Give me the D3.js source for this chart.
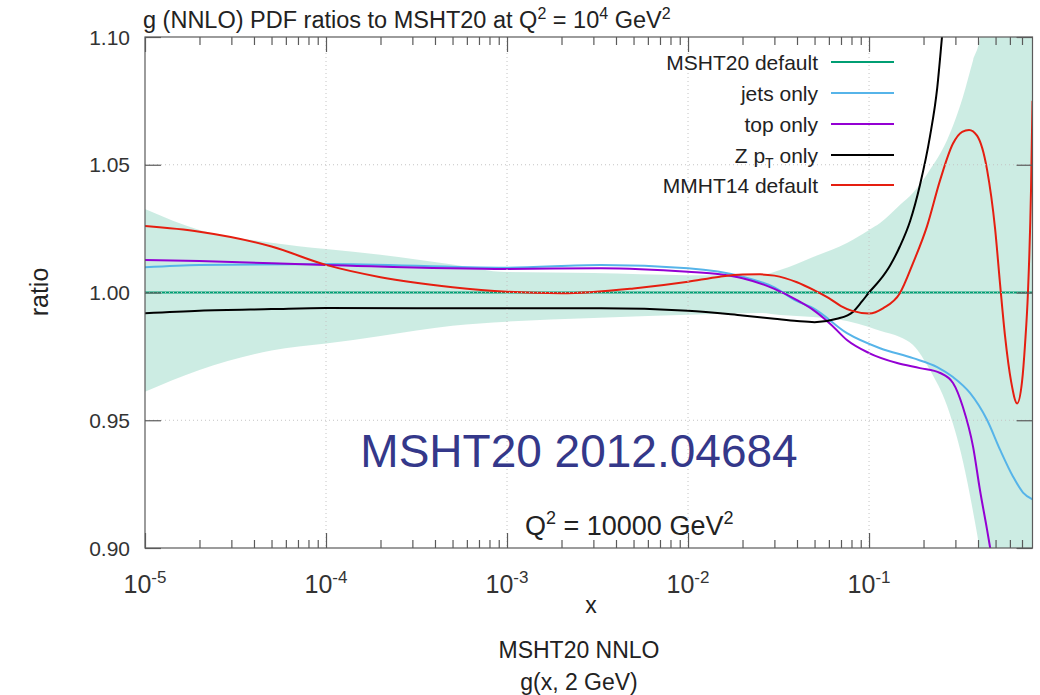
<!DOCTYPE html>
<html>
<head>
<meta charset="utf-8">
<script src="https://cdn.jsdelivr.net/npm/d3@7"></script>
<style>
  body { margin: 0; background: #ffffff; }
  text { font-family: "Liberation Sans", Arial, Helvetica, sans-serif; fill: #222; }
</style>
</head>
<body>
<svg id="chart" width="1040" height="695"></svg>
<script>
// ---- data: gluon ratios to MSHT20 at Q^2 = 10^4 GeV^2 ----
const xTicksMajor = [1e-5, 1e-4, 1e-3, 1e-2, 1e-1];
const xTickExps = ["-5", "-4", "-3", "-2", "-1"];
const yTicks = [0.90, 0.95, 1.00, 1.05, 1.10];
const yTickLabels = ["0.90", "0.95", "1.00", "1.05", "1.10"];

// MSHT20 uncertainty band
const bandX  = [1e-5, 2e-5, 5e-5, 1e-4, 2e-4, 5e-4, 1e-3, 3e-3, 0.01, 0.025, 0.0322, 0.0491, 0.0755, 0.1, 0.115, 0.148, 0.175, 0.217, 0.270, 0.330, 0.376, 0.410, 0.45, 0.8];
const bandHi = [1.0327, 1.0245, 1.0195, 1.0170, 1.0148, 1.0110, 1.0080, 1.0076, 1.0068, 1.0068, 1.0088, 1.0139, 1.0194, 1.0245, 1.0272, 1.0342, 1.0390, 1.0480, 1.0597, 1.0765, 1.0910, 1.1000, 1.13, 1.16];
const bandLo = [0.9612, 0.9697, 0.9773, 0.9800, 0.9830, 0.9870, 0.9886, 0.9900, 0.9913, 0.9920, 0.9912, 0.9904, 0.9888, 0.9865, 0.9850, 0.9826, 0.9795, 0.9697, 0.9556, 0.9340, 0.9140, 0.8980, 0.87, 0.84];

// MSHT20 default (reference)
const mshtX = [1e-5, 0.8];
const mshtY = [1.0, 1.0];

// jets only
const jetsX = [1e-5, 2e-5, 1e-4, 1e-3, 3.3e-3, 0.01, 0.02, 0.03, 0.04, 0.0491, 0.0755, 0.115, 0.175, 0.238, 0.291, 0.361, 0.449, 0.530, 0.625, 0.709, 0.8];
const jetsY = [1.0099, 1.0108, 1.0112, 1.0097, 1.0108, 1.0095, 1.0062, 1.0020, 0.9966, 0.9939, 0.9841, 0.9782, 0.9743, 0.9708, 0.9669, 0.9607, 0.9501, 0.9384, 0.9279, 0.9217, 0.9190];

// top only
const topX = [1e-5, 2e-5, 1e-4, 1e-3, 3.3e-3, 0.01, 0.015, 0.02, 0.03, 0.04, 0.0491, 0.062, 0.0755, 0.1, 0.143, 0.191, 0.247, 0.291, 0.330, 0.376, 0.410, 0.449, 0.467, 0.55, 0.8];
const topY = [1.0127, 1.0123, 1.0108, 1.0092, 1.0095, 1.0081, 1.0071, 1.0056, 1.0014, 0.9970, 0.9932, 0.9873, 0.9814, 0.9763, 0.9724, 0.9704, 0.9685, 0.9646, 0.9552, 0.9395, 0.9227, 0.9071, 0.9000, 0.8700, 0.7800];

// Z pT only
const zptX = [1e-5, 2e-5, 5e-5, 1e-4, 1e-3, 3.3e-3, 0.01, 0.02, 0.03, 0.04, 0.05, 0.0665, 0.0817, 0.0914, 0.1, 0.115, 0.1305, 0.148, 0.1687, 0.191, 0.217, 0.238, 0.253, 0.3];
const zptY = [0.9919, 0.9929, 0.9935, 0.9939, 0.9938, 0.9938, 0.9929, 0.9910, 0.9897, 0.9888, 0.9884, 0.9897, 0.9925, 0.9965, 1.0000, 1.0049, 1.0105, 1.0180, 1.0280, 1.0420, 1.0610, 1.0800, 1.1000, 1.1600];

// MMHT14 default
const mmhtX = [1e-5, 2e-5, 5e-5, 1e-4, 2e-4, 5e-4, 1e-3, 2e-3, 5e-3, 0.01, 0.015, 0.02, 0.025, 0.03, 0.04, 0.05, 0.06, 0.07, 0.08, 0.1, 0.12, 0.148, 0.175, 0.209, 0.247, 0.291, 0.327, 0.357, 0.395, 0.449, 0.497, 0.530, 0.564, 0.610, 0.658, 0.700, 0.728, 0.755, 0.785, 0.8];
const mmhtY = [1.0260, 1.0238, 1.0180, 1.0108, 1.0060, 1.0021, 1.0003, 0.9997, 1.0016, 1.0042, 1.0062, 1.0070, 1.0071, 1.0066, 1.0040, 1.0008, 0.9978, 0.9947, 0.9929, 0.9918, 0.9939, 0.9997, 1.0115, 1.0259, 1.0440, 1.0583, 1.0629, 1.0636, 1.0614, 1.0480, 1.0250, 1.0030, 0.9830, 0.9650, 0.9566, 0.9650, 0.9800, 1.0000, 1.0400, 1.0750];

const seriesNames  = ["MSHT20 default", "jets only", "top only", "Z pT only", "MMHT14 default"];
const seriesColors = ["#009e73", "#56b4e9", "#9400d3", "#000000", "#e51e10"];

// ---- layout ----
const svg = d3.select("#chart");
const pLeft = 145, pRight = 1032.5, pTop = 37, pBottom = 548;

const x = d3.scaleLog().domain([1e-5, 0.8]).range([pLeft, pRight]);
const y = d3.scaleLinear().domain([0.90, 1.10]).range([pBottom, pTop]);

svg.append("defs").append("clipPath").attr("id", "plotClip")
  .append("rect").attr("x", pLeft).attr("y", pTop)
  .attr("width", pRight - pLeft).attr("height", pBottom - pTop);

const plot = svg.append("g").attr("clip-path", "url(#plotClip)");

// uncertainty band
const bandData = bandX.map((d, i) => ({ x: d, lo: bandLo[i], hi: bandHi[i] }));
plot.append("path")
  .datum(bandData)
  .attr("fill", "#009e73")
  .attr("fill-opacity", 0.2)
  .attr("d", d3.area()
    .curve(d3.curveMonotoneX)
    .x(d => x(d.x)).y0(d => y(d.lo)).y1(d => y(d.hi)));

// dotted grid
const grid = svg.append("g").attr("stroke", "#c4c4c4").attr("stroke-width", 1)
  .attr("stroke-dasharray", "1,3");
xTicksMajor.slice(1).forEach(v => {
  grid.append("line").attr("x1", x(v)).attr("x2", x(v)).attr("y1", pTop).attr("y2", pBottom);
});
yTicks.slice(1, -1).forEach(v => {
  grid.append("line").attr("x1", pLeft).attr("x2", pRight).attr("y1", y(v)).attr("y2", y(v));
});

// curves
const line = d3.line().curve(d3.curveMonotoneX).x(d => x(d[0])).y(d => y(d[1]));
const seriesData = [
  d3.zip(mshtX, mshtY),
  d3.zip(jetsX, jetsY),
  d3.zip(topX, topY),
  d3.zip(zptX, zptY),
  d3.zip(mmhtX, mmhtY)
];
seriesData.forEach((pts, i) => {
  plot.append("path").datum(pts)
    .attr("fill", "none")
    .attr("stroke", seriesColors[i])
    .attr("stroke-width", 2)
    .attr("stroke-linejoin", "round")
    .attr("d", line);
});

// ---- axes (ticks drawn inward on all four sides) ----
const minorTicks = [];
for (let e = -5; e <= -1; e++) {
  for (let m = 2; m <= 9; m++) {
    const v = m * Math.pow(10, e);
    if (v < 0.8) minorTicks.push(v);
  }
}
const axisColor = "#5a5a5a";
function styleAxis(g) {
  g.select(".domain").remove();
  g.selectAll("line").attr("stroke", axisColor).attr("stroke-width", 1.2);
  g.selectAll("text").remove();
}
svg.append("g").attr("transform", `translate(0,${pBottom})`)
  .call(d3.axisBottom(x).tickValues(xTicksMajor).tickSize(-15).tickFormat("")).call(styleAxis);
svg.append("g").attr("transform", `translate(0,${pBottom})`)
  .call(d3.axisBottom(x).tickValues(minorTicks).tickSize(-8).tickFormat("")).call(styleAxis);
svg.append("g").attr("transform", `translate(0,${pTop})`)
  .call(d3.axisTop(x).tickValues(xTicksMajor).tickSize(-15).tickFormat("")).call(styleAxis);
svg.append("g").attr("transform", `translate(0,${pTop})`)
  .call(d3.axisTop(x).tickValues(minorTicks).tickSize(-8).tickFormat("")).call(styleAxis);
svg.append("g").attr("transform", `translate(${pLeft},0)`)
  .call(d3.axisLeft(y).tickValues(yTicks).tickSize(-16).tickFormat("")).call(styleAxis);
svg.append("g").attr("transform", `translate(${pRight},0)`)
  .call(d3.axisRight(y).tickValues(yTicks).tickSize(-16).tickFormat("")).call(styleAxis);

// frame
svg.append("rect").attr("x", pLeft).attr("y", pTop)
  .attr("width", pRight - pLeft).attr("height", pBottom - pTop)
  .attr("fill", "none").attr("stroke", axisColor).attr("stroke-width", 1.2);

// y tick labels
svg.append("g").selectAll("text").data(yTicks).join("text")
  .attr("x", 130).attr("y", d => y(d)).attr("dy", "0.36em")
  .attr("text-anchor", "end").attr("font-size", 21).style("fill", "#333")
  .text((d, i) => yTickLabels[i]);

// x tick labels: 10^n
const xl = svg.append("g").selectAll("text").data(xTicksMajor).join("text")
  .attr("x", d => x(d)).attr("y", 593)
  .attr("text-anchor", "middle").attr("font-size", 25).style("fill", "#333");
xl.append("tspan").text("10");
xl.append("tspan").attr("dy", -10).attr("font-size", 17).text((d, i) => xTickExps[i]);

// axis titles
svg.append("text").attr("x", 591).attr("y", 613).attr("text-anchor", "middle")
  .attr("font-size", 23).text("x");
svg.append("text").attr("transform", "translate(48,292) rotate(-90)")
  .attr("text-anchor", "middle").attr("font-size", 25).text("ratio");

// title
const title = svg.append("text").attr("x", 143).attr("y", 28).attr("font-size", 23.5);
title.append("tspan").text("g (NNLO) PDF ratios to MSHT20 at Q");
title.append("tspan").attr("dy", -9).attr("font-size", 16).text("2");
title.append("tspan").attr("dy", 9).text(" = 10");
title.append("tspan").attr("dy", -9).attr("font-size", 16).text("4");
title.append("tspan").attr("dy", 9).text(" GeV");
title.append("tspan").attr("dy", -9).attr("font-size", 16).text("2");

// legend
const legendY = [62, 93, 124, 155, 185];
seriesNames.forEach((name, i) => {
  const t = svg.append("text").attr("x", 818).attr("y", legendY[i]).attr("dy", "0.36em")
    .attr("text-anchor", "end").attr("font-size", 21);
  if (name === "Z pT only") {
    t.append("tspan").text("Z p");
    t.append("tspan").attr("dy", 5).attr("font-size", 14).text("T");
    t.append("tspan").attr("dy", -5).text(" only");
  } else {
    t.text(name);
  }
  svg.append("line").attr("x1", 831).attr("x2", 894)
    .attr("y1", legendY[i]).attr("y2", legendY[i])
    .attr("stroke", seriesColors[i]).attr("stroke-width", 2);
});

// annotations inside the plot
svg.append("text").attr("x", 579).attr("y", 467).attr("text-anchor", "middle")
  .attr("font-family", "DejaVu Sans").attr("font-size", 46)
  .style("fill", "#34388a").text("MSHT20 2012.04684");

const q = svg.append("text").attr("x", 525).attr("y", 535).attr("font-size", 27);
q.append("tspan").text("Q");
q.append("tspan").attr("dy", -11).attr("font-size", 18).text("2");
q.append("tspan").attr("dy", 11).text(" = 10000 GeV");
q.append("tspan").attr("dy", -11).attr("font-size", 18).text("2");

// footer
svg.append("text").attr("x", 579).attr("y", 658).attr("text-anchor", "middle")
  .attr("font-size", 23).text("MSHT20 NNLO");
svg.append("text").attr("x", 579).attr("y", 690).attr("text-anchor", "middle")
  .attr("font-size", 23).text("g(x, 2 GeV)");
</script>
</body>
</html>
